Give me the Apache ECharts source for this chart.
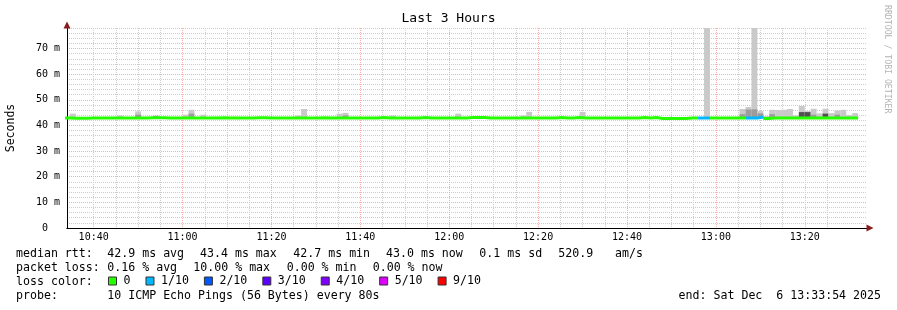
<!DOCTYPE html>
<html><head><meta charset="utf-8">
<script src="https://cdn.jsdelivr.net/npm/echarts@6/dist/echarts.min.js"></script>
<style>html,body{margin:0;padding:0;background:#fff}#c{width:897px;height:310px}</style>
</head><body><div id="c"></div>
<script>
// ---- data ----
const titleText = 'Last 3 Hours';
const axisStartMin = 634;   // 10:34 (minutes of day)
const axisEndMin = 814;     // 13:34
const firstStepCenterMin = 634;
const stepMin = 80 / 60;    // 80 s steps
const minorTickMins = [635,640,645,650,655,660,665,670,675,680,685,690,695,700,705,710,715,720,725,730,735,740,745,750,755,760,765,770,775,780,785,790,795,800,805,810];
const majorTickMins = [640,660,680,700,720,740,760,780,800];
const majorTickLabels = ['10:40','11:00','11:20','11:40','12:00','12:20','12:40','13:00','13:20'];
const yMax = 78, yMajor = 10, yMinor = 2;

// median rtt per 80 s step (ms)
const medianMs = [
 42.9,42.8,42.8,42.8,42.9,42.9,42.9,42.9,42.9,42.9,
 42.9,42.9,42.9,42.9,43.0,43.0,43.0,42.9,42.9,42.9,
 42.9,42.9,42.9,42.9,42.9,42.9,43.0,42.9,42.9,42.9,
 42.9,42.9,43.0,43.0,42.9,42.9,42.9,42.9,42.9,42.9,
 42.9,42.9,42.9,43.0,42.9,42.9,42.9,42.9,42.9,42.9,
 42.9,42.9,42.9,43.1,42.9,42.9,42.9,42.9,42.9,42.9,
 43.1,42.9,42.9,42.9,42.9,42.9,42.9,42.9,43.1,43.1,
 43.1,42.9,42.9,42.9,42.9,42.9,42.9,42.9,42.9,42.9,
 42.9,42.9,42.9,43.1,42.9,42.9,43.1,42.9,42.9,42.9,
 42.9,42.9,42.9,42.9,42.9,42.9,42.9,43.1,42.9,43.1,
 42.7,42.7,42.7,42.7,42.7,42.9,42.9,42.9,42.9,42.9,
 42.9,42.9,42.9,42.9,42.9,42.9,42.9,43.3,42.7,42.9,
 42.9,42.9,42.9,42.9,42.9,42.9,42.9,42.9,42.9,42.9,
 42.9,42.9,42.9,42.9
];
// lost pings (of 10) per step
const lossCount = [
 0,0,0,0,0,0,0,0,0,0, 0,0,0,0,0,0,0,0,0,0,
 0,0,0,0,0,0,0,0,0,0, 0,0,0,0,0,0,0,0,0,0,
 0,0,0,0,0,0,0,0,0,0, 0,0,0,0,0,0,0,0,0,0,
 0,0,0,0,0,0,0,0,0,0, 0,0,0,0,0,0,0,0,0,0,
 0,0,0,0,0,0,0,0,0,0, 0,0,0,0,0,0,0,0,0,0,
 0,0,0,0,0,0,0,1,1,0, 0,0,0,0,0,1,1,1,0,0,
 0,0,0,0,0,0,0,0,0,0, 0,0,0,0
];
// smoke (ping spread) for steps where it shows above the median line
const smokeBase = 42.8;
const smokeStep  = [1,   9,   12,  15,  20,  21,  23,  39,  40,  46,  47,  55,  66,  77,  78,  87,  108, 114, 115, 116, 117, 118, 119, 120, 121, 122, 123, 124, 125, 126, 127, 128, 129, 130, 131, 132, 133];
const smokeLight = [44.6,43.9,45.5,null,44.2,46.1,44.2,43.9,46.4,44.6,44.9,43.9,44.6,43.9,45.3,45.3,78,  46.4,47.2,78,  45.6,null,46.1,46.0,46.1,46.4,43.9,47.6,45.6,46.5,44.7,46.5,44.8,45.8,46.1,44.1,44.8];
const smokeMid   = [null,null,44.2,43.8,null,44.6,null,null,null,null,43.9,null,null,null,null,null,null,44.4,46.2,46.3,44.7,null,44.4,null,null,null,null,null,null,44.2,null,null,null,44.2,null,null,null];
const smokeDark  = [null,null,null,null,null,null,null,null,null,null,null,null,null,null,null,null,null,null,null,null,null,43.4,null,null,null,null,null,45.2,45.2,null,null,44.6,null,null,null,null,null];

const lossClasses = [0,1,2,3,4,5,9];
const lossLabels = ['0','1/10','2/10','3/10','4/10','5/10','9/10'];
const lossColors = ['#26ff00','#00b8ff','#0059ff','#5e00ff','#7e00ff','#dd00ff','#ff0000'];
const smokeColors = ['#c9c9c9','#9c9c9c','#505050'];

const medianRow = [['median rtt:',16],['42.9 ms avg',107.3],['43.4 ms max',200],['42.7 ms min',293.3],['43.0 ms now',386],['0.1 ms sd',479.3],['520.9',558.3],['am/s',615]];
const lossRow = [['packet loss:',16],['0.16 % avg',107.3],['10.00 % max',193.3],['0.00 % min',286.7],['0.00 % now',372.7]];
const probeRow = [['probe:',16],['10 ICMP Echo Pings (56 Bytes) every 80s',107.3]];
const endText = 'end: Sat Dec  6 13:33:54 2025';
const watermark = 'RRDTOOL / TOBI OETIKER';

// ---- chart ----
const MONO = 'DejaVu Sans Mono';
const chart = echarts.init(document.getElementById('c'), null, {renderer:'canvas'});

const series = [];
series.push({
  type:'custom', name:'smoke', xAxisIndex:0, yAxisIndex:0, clip:true, z:2, silent:true,
  data: smokeStep.map((s,k)=>{
    const c = firstStepCenterMin + s*stepMin;
    return [c - stepMin/2, c + stepMin/2, smokeBase,
      smokeLight[k]==null?NaN:smokeLight[k], smokeMid[k]==null?NaN:smokeMid[k], smokeDark[k]==null?NaN:smokeDark[k]];
  }),
  encode:{x:[0,1], y:[2,3]},
  renderItem(params, api){
    const t0 = api.value(0), t1 = api.value(1), b = api.value(2);
    const tops = [api.value(3), api.value(4), api.value(5)];
    const children = [];
    tops.forEach((top, j)=>{
      if (!(top > b)) return;
      const p0 = api.coord([t0, top]), p1 = api.coord([t1, b]);
      children.push({type:'rect', shape:{x:p0[0], y:p0[1], width:p1[0]-p0[0], height:p1[1]-p0[1]}, style:{fill:smokeColors[j]}});
    });
    return {type:'group', children};
  }
});
lossClasses.forEach((cls, k)=>{
  const data = [];
  medianMs.forEach((v,i)=>{
    const t0 = firstStepCenterMin + (i-0.5)*stepMin, t1 = t0 + stepMin;
    if (lossCount[i] === cls) { data.push([t0, v], [t1, v]); }
    else data.push([t0, null]);
  });
  series.push({type:'line', name:lossLabels[k], xAxisIndex:0, yAxisIndex:0, data,
    showSymbol:false, symbol:'none', connectNulls:false, z:5, silent:true,
    lineStyle:{width:3, color:lossColors[k], join:'miter'}, itemStyle:{color:lossColors[k]}});
});

const graphics = [];
const addText = (txt, x, y, extra) => graphics.push(Object.assign({type:'text', x, y, silent:true,
  style:{text:txt, font:'11.6px "' + MONO + '"', fill:'#000', align:'left', verticalAlign:'middle'}}, extra||{}));
medianRow.forEach(([t,x])=>addText(t,x,254));
lossRow.forEach(([t,x])=>addText(t,x,268));
addText('loss color:',16,282);
probeRow.forEach(([t,x])=>addText(t,x,296));
graphics.push({type:'text', x:881, y:296, silent:true, style:{text:endText, font:'11.6px "' + MONO + '"', fill:'#000', align:'right', verticalAlign:'middle'}});
graphics.push({type:'text', x:887, y:5, rotation:-Math.PI/2, silent:true, style:{text:watermark, font:'8.2px "' + MONO + '"', fill:'#b4b4b4', align:'left', verticalAlign:'middle'}});

const arrowColor = '#8b1c1c';
const minorLine = {show:true, lineStyle:{color:'#cdcdcd', width:1, type:[1,1]}};
const majorLine = {show:true, lineStyle:{color:'#f5acac', width:1, type:[1,1]}};

chart.setOption({
  animation:false,
  backgroundColor:'#ffffff',
  title:{text:titleText, left:'center', top:12, padding:0, textStyle:{fontFamily:MONO, fontSize:13, fontWeight:'normal', color:'#000'}},
  grid:{left:67, right:30, top:28, bottom:82, containLabel:false, outerBoundsMode:'none'},
  legend:{data:lossLabels, left:108, top:275, padding:0, icon:'rect', itemWidth:8, itemHeight:8, itemGap:15, selectedMode:false,
    itemStyle:{borderColor:'#333', borderWidth:1},
    textStyle:{fontFamily:MONO, fontSize:11.6, color:'#000', padding:[0,0,0,2]}},
  xAxis:[
    {type:'value', min:axisStartMin, max:axisEndMin, position:'bottom',
     axisLine:{show:true, symbol:['none','triangle'], symbolSize:[7,7], symbolOffset:[0,3], lineStyle:{color:arrowColor, width:1}},
     axisTick:{show:false, customValues:minorTickMins}, axisLabel:{show:false},
     splitLine:Object.assign({showMinLine:false, showMaxLine:false}, minorLine)},
    {type:'value', min:axisStartMin, max:axisEndMin, position:'bottom',
     axisLine:{show:true, lineStyle:{color:'#000', width:1}},
     axisTick:{show:false, customValues:majorTickMins},
     axisLabel:{show:true, customValues:majorTickMins, margin:4, fontFamily:MONO, fontSize:10, color:'#000',
       formatter:(v)=>{const i = majorTickMins.indexOf(Math.round(v)); return i>=0?majorTickLabels[i]:'';}},
     splitLine:Object.assign({showMinLine:false, showMaxLine:false}, majorLine)}
  ],
  yAxis:[
    {type:'value', min:0, max:yMax, interval:yMinor, position:'left',
     axisLine:{show:true, symbol:['none','triangle'], symbolSize:[7,7], symbolOffset:[0,3], lineStyle:{color:arrowColor, width:1}},
     axisTick:{show:false}, axisLabel:{show:false},
     splitLine:Object.assign({showMinLine:false, showMaxLine:true}, minorLine)},
    {type:'value', min:0, max:yMax, interval:yMajor, position:'left',
     name:'Seconds', nameLocation:'middle', nameGap:50, nameTextStyle:{fontFamily:MONO, fontSize:11.5, color:'#000'},
     axisLine:{show:true, lineStyle:{color:'#000', width:1}},
     axisTick:{show:false},
     axisLabel:{show:true, showMaxLabel:false, margin:7, fontFamily:MONO, fontSize:10, color:'#000',
       formatter:(v)=> v===0 ? '0  ' : (v + ' m')},
     splitLine:Object.assign({showMinLine:false, showMaxLine:false}, majorLine)}
  ],
  graphic:graphics,
  series
});
</script></body></html>
